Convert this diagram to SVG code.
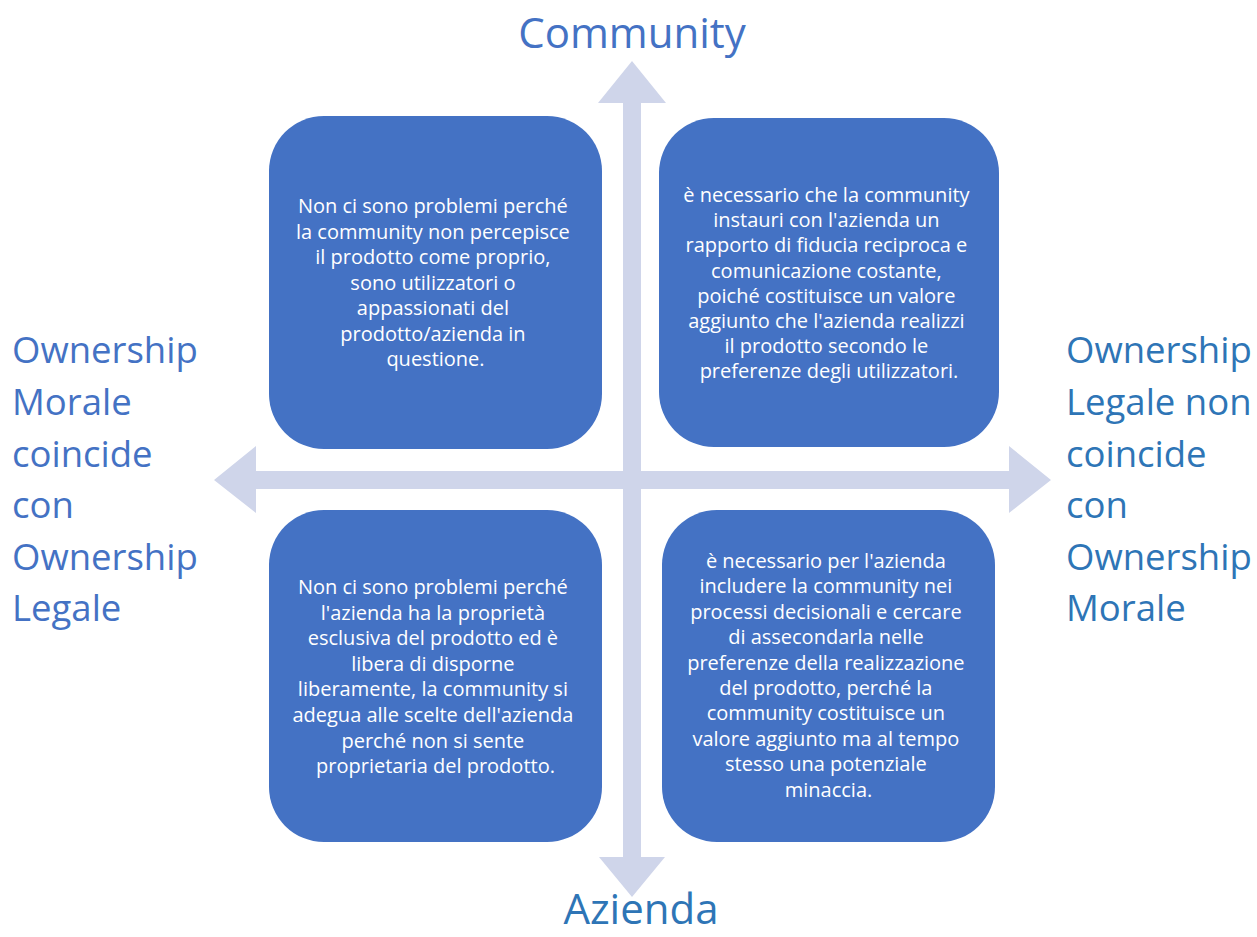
<svg xmlns="http://www.w3.org/2000/svg" width="1257" height="937" viewBox="0 0 1257 937">
  <style>
    .box { fill: #4472C4; }
    .boxtext { font-family: "Open Sans", Lato, sans-serif; font-size: 20px; fill: #FFFFFF; text-anchor: middle; }
    .axis { fill: #CFD5EA; }
    .lbl { font-family: "Open Sans", Lato, sans-serif; font-size: 36.5px; }
    .title { font-family: "Open Sans", Lato, sans-serif; font-size: 42px; text-anchor: middle; }
    .blue1 { fill: #4472C4; }
    .blue2 { fill: #2E75B6; }
  </style>

  <rect width="1257" height="937" fill="#FFFFFF"/>

  <!-- axes: two double-headed block arrows -->
  <g id="connectors">
    <polygon id="axis-vertical" class="axis"
      points="632,61 666,103 641,103 641,857 665,857 632,897 599,857 623,857 623,103 598,103"/>
    <polygon id="axis-horizontal" class="axis"
      points="214,480 256,446 256,471 1009,471 1009,446 1051,480 1009,513 1009,489 256,489 256,513"/>
  </g>

  <!-- axis labels -->
  <g id="label-top">
    <text class="title blue1" x="632" y="48">Community</text>
  </g>
  <g id="label-bottom">
    <text class="title blue2" x="641" y="924" font-size="41">Azienda</text>
  </g>
  <g id="label-left" class="lbl blue1">
    <text x="12" y="363">Ownership</text>
    <text x="12" y="415">Morale</text>
    <text x="12" y="467">coincide</text>
    <text x="12" y="518">con</text>
    <text x="12" y="570">Ownership</text>
    <text x="12" y="621">Legale</text>
  </g>
  <g id="label-right" class="lbl blue2">
    <text x="1066" y="363">Ownership</text>
    <text x="1066" y="415">Legale non</text>
    <text x="1066" y="467">coincide</text>
    <text x="1066" y="518">con</text>
    <text x="1066" y="570">Ownership</text>
    <text x="1066" y="621">Morale</text>
  </g>

  <!-- quadrant: top-left -->
  <g id="node-top-left">
    <rect class="box" x="269" y="116" width="333" height="333" rx="55" ry="55"/>
    <text class="boxtext">
      <tspan x="435.5" y="213">Non ci sono problemi perché</tspan>
      <tspan x="435.5" y="238.5">la community non percepisce</tspan>
      <tspan x="435.5" y="264">il prodotto come proprio,</tspan>
      <tspan x="435.5" y="289.5">sono utilizzatori o</tspan>
      <tspan x="435.5" y="315">appassionati del</tspan>
      <tspan x="435.5" y="340.5">prodotto/azienda in</tspan>
      <tspan x="435.5" y="366">questione.</tspan>
    </text>
  </g>

  <!-- quadrant: top-right -->
  <g id="node-top-right">
    <rect class="box" x="659" y="118" width="340" height="329" rx="55" ry="55"/>
    <text class="boxtext">
      <tspan x="829" y="202">è necessario che la community</tspan>
      <tspan x="829" y="227.2">instauri con l'azienda un</tspan>
      <tspan x="829" y="252.4">rapporto di fiducia reciproca e</tspan>
      <tspan x="829" y="277.6">comunicazione costante,</tspan>
      <tspan x="829" y="302.8">poiché costituisce un valore</tspan>
      <tspan x="829" y="328">aggiunto che l'azienda realizzi</tspan>
      <tspan x="829" y="353.2">il prodotto secondo le</tspan>
      <tspan x="829" y="378.4">preferenze degli utilizzatori.</tspan>
    </text>
  </g>

  <!-- quadrant: bottom-left -->
  <g id="node-bottom-left">
    <rect class="box" x="269" y="510" width="333" height="332" rx="55" ry="55"/>
    <text class="boxtext">
      <tspan x="435.5" y="594">Non ci sono problemi perché</tspan>
      <tspan x="435.5" y="619.6">l'azienda ha la proprietà</tspan>
      <tspan x="435.5" y="645.2">esclusiva del prodotto ed è</tspan>
      <tspan x="435.5" y="670.8">libera di disporne</tspan>
      <tspan x="435.5" y="696.4">liberamente, la community si</tspan>
      <tspan x="435.5" y="722">adegua alle scelte dell'azienda</tspan>
      <tspan x="435.5" y="747.6">perché non si sente</tspan>
      <tspan x="435.5" y="773.2">proprietaria del prodotto.</tspan>
    </text>
  </g>

  <!-- quadrant: bottom-right -->
  <g id="node-bottom-right">
    <rect class="box" x="662" y="510" width="333" height="332" rx="55" ry="55"/>
    <text class="boxtext">
      <tspan x="828.5" y="568">è necessario per l'azienda</tspan>
      <tspan x="828.5" y="593.4">includere la community nei</tspan>
      <tspan x="828.5" y="618.8">processi decisionali e cercare</tspan>
      <tspan x="828.5" y="644.2">di assecondarla nelle</tspan>
      <tspan x="828.5" y="669.6">preferenze della realizzazione</tspan>
      <tspan x="828.5" y="695">del prodotto, perché la</tspan>
      <tspan x="828.5" y="720.4">community costituisce un</tspan>
      <tspan x="828.5" y="745.8">valore aggiunto ma al tempo</tspan>
      <tspan x="828.5" y="771.2">stesso una potenziale</tspan>
      <tspan x="828.5" y="796.6">minaccia.</tspan>
    </text>
  </g>
</svg>
